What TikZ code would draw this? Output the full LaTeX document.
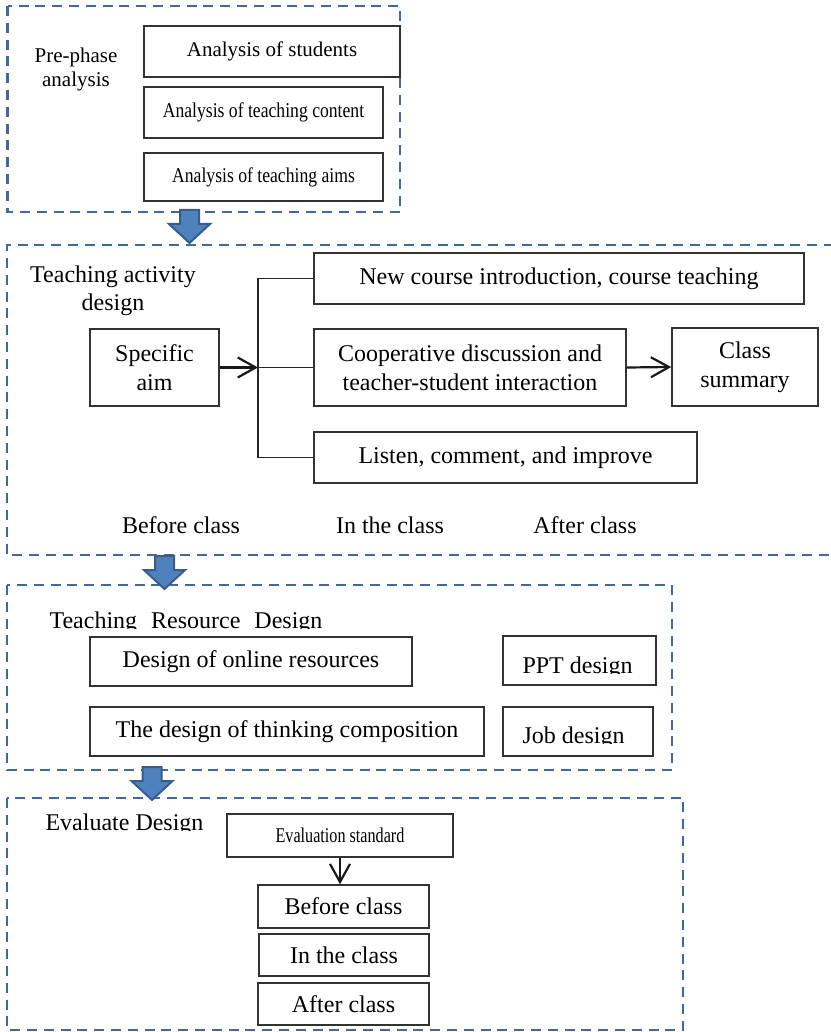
\documentclass[tikz,border=0pt]{standalone}
\usepackage{fontspec}
\setmainfont{Liberation Serif}
\newfontfamily\tdnarrow[FakeStretch=0.84]{Liberation Serif}
\newfontfamily\tdnarrower[FakeStretch=0.77]{Liberation Serif}
\usepackage{tikz}
\usetikzlibrary{arrows.meta}
\definecolor{tdframe}{RGB}{68,104,154}
\definecolor{tdedge}{RGB}{50,50,50}
\definecolor{tdfill}{RGB}{79,129,189}
\definecolor{tdrim}{RGB}{56,93,138}
\tikzset{
  tdbox/.style={
    draw=tdedge, line width=0.8pt, inner sep=0pt, align=center,
    font=\fontsize{12}{14.5}\selectfont
  },
  smallbox/.style={tdbox, font=\tdnarrow\fontsize{10.5}{12}\selectfont},
  phase/.style={draw=tdframe, line width=1.3pt, dash pattern=on 5pt off 3.4pt},
  lbl/.style={align=center, inner sep=0pt, font=\fontsize{12}{14}\selectfont},
  arr/.style={-{Straight Barb[length=9pt,width=10pt]}, draw=black!90, line width=1.1pt},
  link/.style={draw=black!85, line width=0.9pt},
  bigarr/.style={fill=tdfill, draw=tdrim, line width=1pt, line join=miter},
  downarr/.pic={
    \path[bigarr] (0,0) -- (-20.5,-19) -- (-9.5,-19) -- (-9.5,-33)
      -- (9.5,-33) -- (9.5,-19) -- (20.5,-19) -- cycle;
  }
}
\begin{document}
\begin{tikzpicture}[x=0.5pt,y=-0.5pt]
  \useasboundingbox (0,0) rectangle (830,1032);
  \draw[phase] (7.5,6) rectangle (400,212);
  \draw[phase] (834,245) -- (7,245) -- (7,555) -- (834,555);
  \draw[phase] (7,585) rectangle (672,770);
  \draw[phase] (7,798) rectangle (683,1030);

  \node[lbl, font=\fontsize{10.5}{12}\selectfont] (pre) at (76,69) {Pre-phase\\analysis};
  \node[tdbox, font=\fontsize{10.5}{12}\selectfont, minimum width=128pt, minimum height=25.5pt] (stud) at (272,51.5) {Analysis of students};
  \node[smallbox, minimum width=119.5pt, minimum height=25.5pt] (cont) at (263.5,112.5) {Analysis of teaching content};
  \node[smallbox, minimum width=119.5pt, minimum height=24pt] (aims) at (263.5,177) {Analysis of teaching aims};

  \node[lbl] (tad) at (113,291) {Teaching activity\\design};
  \node[tdbox, minimum width=64.5pt, minimum height=38.5pt] (aim) at (154.5,367.5) {Specific\\aim};
  \node[tdbox, minimum width=245pt, minimum height=25.5pt] (newc) at (559,278.5) {New course introduction, course teaching};
  \node[tdbox, minimum width=156pt, minimum height=38.5pt] (coop) at (470,367.5) {Cooperative discussion and\\teacher-student interaction};
  \node[tdbox, minimum width=73pt, minimum height=39pt] (summ) at (745,367) {Class\\summary};
  \node[tdbox, minimum width=191.5pt, minimum height=25.5pt] (listen) at (505.5,457.5) {Listen, comment, and improve};
  \coordinate (fork) at (258,367.5);
  \draw[arr] (aim.east) -- (fork);
  \draw[link] (newc.west) -| (fork) |- (listen.west);
  \draw[link] (fork) -- (coop.west);
  \draw[arr] (coop.east) -- (summ.west);
  \node[lbl] (tbef) at (181,525) {Before class};
  \node[lbl] (tin) at (390,525) {In the class};
  \node[lbl] (taft) at (585,525) {After class};

  \begin{scope}
    \clip (40,600) rectangle (340,628);
    \node[lbl, anchor=base] (trd) at (186,628) {Teaching\hspace{7pt}Resource\hspace{7pt}Design};
  \end{scope}
  \node[tdbox, minimum width=161pt, minimum height=24.5pt] (online) at (251,661.5) {Design of online resources};
  \node[tdbox, minimum width=197pt, minimum height=24.5pt] (think) at (287,731.5) {The design of thinking composition};
  \node[tdbox, minimum width=76.5pt, minimum height=24.5pt] (ppt) at (579.5,660.5) {};
  \node[tdbox, minimum width=75pt, minimum height=24.5pt] (job) at (578,731.5) {};
  \begin{scope}
    \clip (505,640) rectangle (654,673);
    \node[lbl, anchor=base] (ppttext) at (577.5,673) {PPT design};
  \end{scope}
  \begin{scope}
    \clip (505,710) rectangle (651,743);
    \node[lbl, anchor=base] (jobtext) at (573.5,743) {Job design};
  \end{scope}

  \begin{scope}
    \clip (40,805) rectangle (215,830);
    \node[lbl, anchor=base] (evd) at (124.5,830) {Evaluate Design};
  \end{scope}
  \node[tdbox, font=\tdnarrower\fontsize{10.5}{12}\selectfont, minimum width=113pt, minimum height=21.5pt] (std) at (340,835.5) {Evaluation standard};
  \node[tdbox, minimum width=85.5pt, minimum height=21.5pt] (bef) at (343.5,906.5) {Before class};
  \node[tdbox, minimum width=85pt, minimum height=21pt] (inc) at (344,955) {In the class};
  \node[tdbox, minimum width=85.5pt, minimum height=21pt] (aft) at (343.5,1004) {After class};
  \draw[arr] (std.south) -- (std.south |- bef.north);

  \pic at (189.5,243) {downarr};
  \pic at (164.5,589) {downarr};
  \pic at (152,800) {downarr};
\end{tikzpicture}
\end{document}
